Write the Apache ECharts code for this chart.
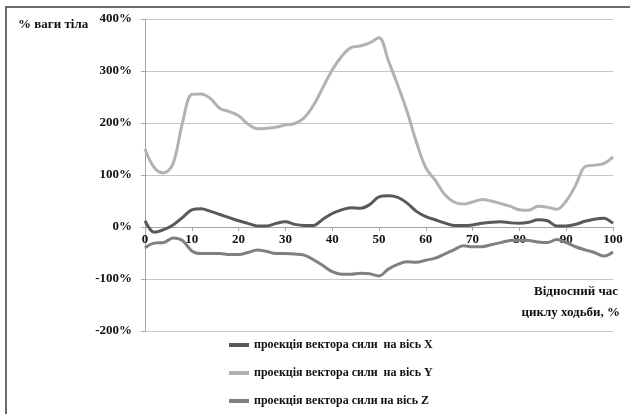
<!DOCTYPE html>
<html>
<head>
<meta charset="utf-8">
<script src="https://cdn.jsdelivr.net/npm/echarts@6/dist/echarts.min.js"></script>
<style>
  html, body { margin: 0; padding: 0; background: #fff; }
  #chart { width: 630px; height: 414px; }
</style>
</head>
<body>
<div id="chart"></div>
<script>
// Relative time of the gait cycle, %
const cyclePct = [0, 2, 4, 6, 8, 10, 12, 14, 16, 18, 20, 22, 24, 26, 28, 30, 32, 34, 36, 38, 40,
  42, 44, 46, 48, 50, 52, 54, 56, 58, 60, 62, 64, 66, 68, 70, 72, 74, 76, 78, 80,
  82, 84, 86, 88, 90, 92, 94, 96, 98, 100];

// Force vector projections, % of body weight
const forceX = [12, -10, -5, 4, 18, 33, 35, 30, 24, 18, 12, 7, 2, 2, 7, 10, 5, 3, 3, 15, 26,
  33, 37, 36, 43, 58, 60, 57, 46, 30, 20, 14, 8, 3, 3, 4, 7, 9, 10, 8, 7,
  9, 14, 12, 2, 2, 5, 11, 15, 17, 7];
const forceY = [150, 114, 104, 122, 200, 255, 256, 247, 228, 222, 214, 198, 189, 190, 192, 196, 199, 210, 234, 268, 302,
  328, 345, 348, 354, 364, 320, 273, 222, 163, 114, 90, 63, 48, 44, 48, 53, 50, 45, 40, 33,
  32, 40, 38, 34, 50, 80, 116, 119, 122, 135];
const forceZ = [-40, -31, -30, -21, -26, -46, -51, -51, -51, -53, -53, -49, -44, -47, -51, -51, -52, -54, -63, -74, -86,
  -91, -91, -89, -90, -94, -81, -72, -67, -68, -64, -60, -52, -44, -36, -38, -38, -34, -30, -26, -25,
  -26, -29, -30, -24, -30, -38, -44, -49, -56, -48];

const seriesNames = [
  'проекція вектора сили  на вісь X',
  'проекція вектора сили  на вісь Y',
  'проекція вектора сили на вісь Z'
];
const seriesColors = ['#595959', '#b2b2b2', '#808080'];

const yTicks = { min: -200, max: 400, step: 100 };
const xTicks = { min: 0, max: 100, step: 10 };

const serif = '"Liberation Serif", "DejaVu Serif", serif';
const axisGray = '#a6a6a6';

function pairs(values) {
  return cyclePct.map((t, i) => [t, values[i]]);
}

// Pixel layout of the plot; the upper grid spans only the positive half so
// its bottom edge sits on the 0% line and carries the time axis there.
const plot = { left: 145, right: 17, top: 19, bottom: 83 };
const zeroFromBottom = plot.bottom + (414 - plot.top - plot.bottom) * (0 - yTicks.min) / (yTicks.max - yTicks.min);

const chart = echarts.init(document.getElementById('chart'), null, { renderer: 'canvas' });

chart.setOption({
  animation: false,
  backgroundColor: '#ffffff',
  grid: [
    { left: plot.left, right: plot.right, top: plot.top, bottom: plot.bottom },
    { left: plot.left, right: plot.right, top: plot.top, bottom: zeroFromBottom }
  ],
  xAxis: [
    {
      gridIndex: 0, type: 'value',
      min: xTicks.min, max: xTicks.max, interval: xTicks.step,
      axisLine: { show: false }, axisTick: { show: false }, axisLabel: { show: false },
      splitLine: { show: false }
    },
    {
      gridIndex: 1, type: 'value',
      min: xTicks.min, max: xTicks.max, interval: xTicks.step,
      axisLine: { show: true, onZero: false, lineStyle: { color: axisGray, width: 1 } },
      axisTick: { show: true, length: 4, lineStyle: { color: axisGray } },
      axisLabel: { color: '#111', fontFamily: serif, fontWeight: 'bold', fontSize: 13, margin: 6 },
      splitLine: { show: false }
    }
  ],
  yAxis: [
    {
      gridIndex: 0, type: 'value',
      min: yTicks.min, max: yTicks.max, interval: yTicks.step,
      axisLine: { show: true, onZero: false, lineStyle: { color: axisGray, width: 1 } },
      axisTick: { show: true, length: 4, lineStyle: { color: axisGray } },
      axisLabel: { color: '#111', fontFamily: serif, fontWeight: 'bold', fontSize: 13, margin: 13,
        formatter: '{value}%' },
      splitLine: { show: true, lineStyle: { color: '#c6c6c6', width: 1 } }
    },
    {
      gridIndex: 1, type: 'value', min: 0, max: yTicks.max,
      axisLine: { show: false }, axisTick: { show: false }, axisLabel: { show: false },
      splitLine: { show: false }
    }
  ],
  legend: {
    orient: 'vertical',
    left: 224, top: 334, height: 120,
    itemWidth: 20, itemHeight: 4, itemGap: 16,
    icon: 'rect',
    textStyle: { color: '#111', fontFamily: serif, fontWeight: 'bold', fontSize: 12 },
    data: seriesNames
  },
  series: [forceX, forceY, forceZ].map((vals, i) => ({
    name: seriesNames[i],
    type: 'line',
    xAxisIndex: 0, yAxisIndex: 0,
    data: pairs(vals),
    smooth: 0.35,
    showSymbol: false,
    symbol: 'none',
    lineStyle: { color: seriesColors[i], width: 3 },
    itemStyle: { color: seriesColors[i] },
    z: i === 1 ? 2 : 3
  })),
  graphic: [
    {
      type: 'polyline',
      shape: { points: [[6, 414], [6, 7], [630, 7]] },
      style: { stroke: '#3a3a3a', lineWidth: 1.5, fill: null },
      silent: true
    },
    {
      type: 'text', left: 18, top: 18,
      style: { text: '% ваги тіла', fill: '#111', font: 'bold 13px ' + serif }
    },
    {
      type: 'text', right: 12, top: 285,
      style: { text: 'Відносний час', fill: '#111', font: 'bold 13px ' + serif }
    },
    {
      type: 'text', right: 10, top: 306,
      style: { text: 'циклу ходьби, %', fill: '#111', font: 'bold 13px ' + serif }
    }
  ]
});
</script>
</body>
</html>
